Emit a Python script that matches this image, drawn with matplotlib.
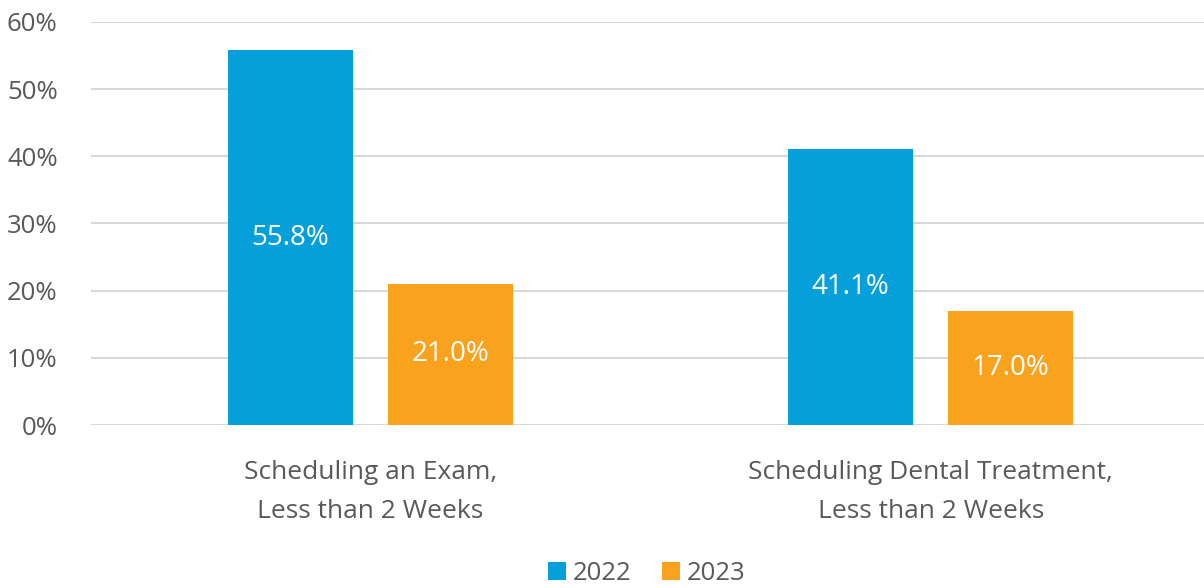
import matplotlib
matplotlib.use("Agg")
import matplotlib.pyplot as plt
import numpy as np

categories = ["Scheduling an Exam,\nLess than 2 Weeks", "Scheduling Dental Treatment,\nLess than 2 Weeks"]
series_names = ["2022", "2023"]
values_2022 = [55.8, 41.1]
values_2023 = [21.0, 17.0]
yticks = [0, 10, 20, 30, 40, 50, 60]

colors = ["#059FD9", "#F9A21E"]
text_color = "#595959"
plt.rcParams['font.family'] = ['Open Sans', 'DejaVu Sans']

fig = plt.figure(figsize=(12.04, 5.88), dpi=100)
ax = fig.add_axes([0.0756, 0.2772, 0.9244, 0.6854])

x = np.arange(len(categories))
w = 0.2232
off = 0.1429
for vals, o, c, name in [(values_2022, -off, colors[0], series_names[0]),
                         (values_2023, off, colors[1], series_names[1])]:
    bars = ax.bar(x + o, vals, width=w, color=c, label=name, zorder=3)
    for b, v in zip(bars, vals):
        ax.text(b.get_x() + b.get_width() / 2, v / 2, f"{v:.1f}%", ha="center", va="center",
                color="white", fontsize=20, zorder=4)

ax.set_xlim(-0.499, 1.488)
ax.set_ylim(0, 60)
ax.set_yticks(yticks)
ax.set_yticklabels([f"{t}%" for t in yticks])
ax.yaxis.grid(True, color="#D9D9D9", linewidth=1.5, zorder=0)
ax.set_axisbelow(True)
for s in ax.spines.values():
    s.set_visible(False)
ax.tick_params(axis="y", length=0, pad=24, labelsize=18.5, labelcolor=text_color)
ax.tick_params(axis="x", length=0, pad=25, labelsize=19, labelcolor=text_color)
ax.set_xticks(x)
ax.set_xticklabels(categories, linespacing=1.75)

leg = fig.legend(loc="lower center", bbox_to_anchor=(0.537, -0.036), ncol=2, frameon=False,
                 fontsize=18.5, handlelength=0.7, handleheight=0.7, handletextpad=0.25,
                 columnspacing=1.2)
for t in leg.get_texts():
    t.set_color(text_color)

fig.savefig("out.png", dpi=100)
